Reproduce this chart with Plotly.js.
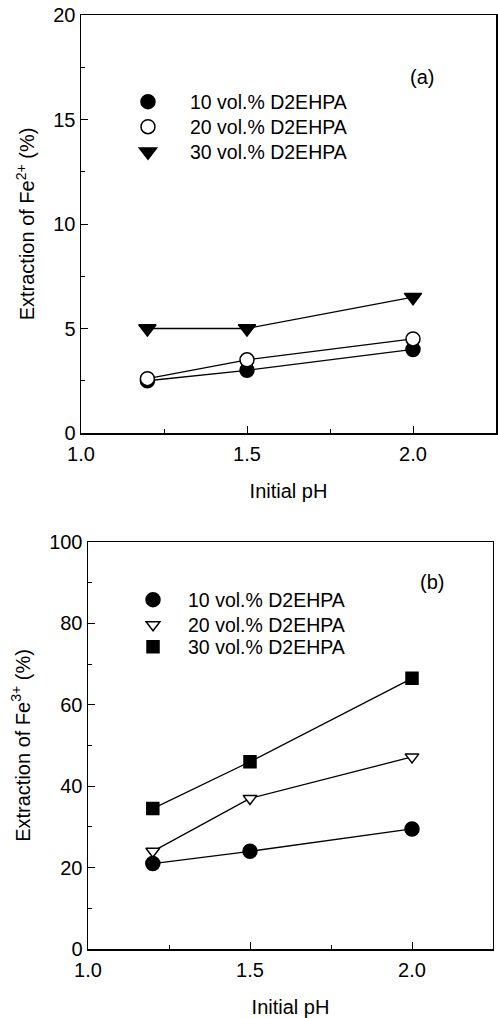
<!DOCTYPE html>
<html><head><meta charset="utf-8">
<script src="https://cdn.plot.ly/plotly-3.0.1.min.js"></script>
<style>html,body{margin:0;padding:0;background:#fff}#chart{width:498px;height:1018px}</style>
</head><body><div id="chart"></div>
<script>
const pH = [1.2, 1.5, 2.0];
const seriesNames = ['10 vol.% D2EHPA', '20 vol.% D2EHPA', '30 vol.% D2EHPA'];
const fe2_10 = [2.5, 3.0, 4.0];
const fe2_20 = [2.6, 3.5, 4.5];
const fe2_30 = [5.0, 5.0, 6.5];
const fe3_10 = [21, 24, 29.5];
const fe3_20 = [24, 37, 47.2];
const fe3_30 = [34.5, 46, 66.5];
const xTickVals = [1.0, 1.5, 2.0];
const xTickText = ['1.0', '1.5', '2.0'];
const yTopTicks = [0, 5, 10, 15, 20];
const yBotTicks = [0, 20, 40, 60, 80, 100];

const FONT = 'Liberation Sans, Arial, Helvetica, sans-serif';

function lineTr(y, xa, ya) {
  return {x: pH, y: y, type: 'scatter', mode: 'lines', xaxis: xa, yaxis: ya,
          showlegend: false, hoverinfo: 'skip', line: {color: '#000', width: 1.3}};
}
function markTr(y, name, sym, size, fill, xa, ya, leg) {
  return {x: pH, y: y, name: name, type: 'scatter', mode: 'markers',
          xaxis: xa, yaxis: ya, legend: leg,
          marker: {symbol: sym, size: size, color: fill, line: {color: '#000', width: 1.5}}};
}

const data = [
  lineTr(fe2_10, 'x', 'y'), lineTr(fe2_20, 'x', 'y'), lineTr(fe2_30, 'x', 'y'),
  lineTr(fe3_10, 'x2', 'y2'), lineTr(fe3_20, 'x2', 'y2'), lineTr(fe3_30, 'x2', 'y2'),
  markTr(fe2_10, seriesNames[0], 'circle', 14, '#000', 'x', 'y', 'legend'),
  markTr(fe2_20, seriesNames[1], 'circle', 14, '#fff', 'x', 'y', 'legend2'),
  markTr(fe2_30, seriesNames[2], 'triangle-down', 15, '#000', 'x', 'y', 'legend3'),
  markTr(fe3_10, seriesNames[0], 'circle', 14, '#000', 'x2', 'y2', 'legend4'),
  markTr(fe3_20, seriesNames[1], 'triangle-down', 12, '#fff', 'x2', 'y2', 'legend5'),
  markTr(fe3_30, seriesNames[2], 'square', 12, '#000', 'x2', 'y2', 'legend6')
];

function xax(domain, anchor) {
  return {
    domain: domain, anchor: anchor, range: [1, 2.25],
    tickmode: 'array', tickvals: xTickVals, ticktext: xTickText,
    ticks: 'inside', ticklen: 7, tickwidth: 1, tickcolor: '#000', ticklabelstandoff: 2,
    minor: {tick0: 1, dtick: 0.25, ticks: 'inside', ticklen: 4, tickwidth: 1, tickcolor: '#000'},
    showline: true, linecolor: '#000', linewidth: 1.5, mirror: true,
    showgrid: false, zeroline: false,
    tickfont: {family: FONT, size: 20, color: '#000'},
    title: {text: 'Initial pH', font: {family: FONT, size: 20, color: '#000'}, standoff: 20}
  };
}
function yax(domain, anchor, range, ticks, minorD, title) {
  return {
    domain: domain, anchor: anchor, range: range,
    tickmode: 'array', tickvals: ticks,
    ticks: 'inside', ticklen: 7, tickwidth: 1, tickcolor: '#000',
    minor: {tick0: 0, dtick: minorD, ticks: 'inside', ticklen: 4, tickwidth: 1, tickcolor: '#000'},
    showline: true, linecolor: '#000', linewidth: 1.5, mirror: true,
    showgrid: false, zeroline: false,
    tickfont: {family: FONT, size: 20, color: '#000'},
    title: {text: title, font: {family: FONT, size: 20, color: '#000'}, standoff: 13}
  };
}

function legendOpts(x, y, itemwidth) {
  return {
    x: x, y: y, xref: 'paper', yref: 'paper', xanchor: 'left', yanchor: 'middle',
    bgcolor: 'rgba(0,0,0,0)', borderwidth: 0, itemwidth: itemwidth,
    font: {family: FONT, size: 19.5, color: '#000'}
  };
}

const layout = {
  width: 498, height: 1018,
  margin: {l: 81, r: 2, t: 15, b: 69},
  paper_bgcolor: '#fff', plot_bgcolor: '#fff',
  showlegend: true,
  xaxis: xax([0, 1], 'y'),
  yaxis: yax([0.55246, 1], 'x', [0, 20], yTopTicks, 2.5, 'Extraction of Fe<sup>2+</sup> (%)'),
  xaxis2: xax([0.01687, 0.99277], 'y2'),
  yaxis2: yax([0, 0.43576], 'x2', [0, 100], yBotTicks, 10, 'Extraction of Fe<sup>3+</sup> (%)'),
  legend: legendOpts(0.0602, 0.9069, 74),
  legend2: legendOpts(0.0602, 0.8801, 74),
  legend3: legendOpts(0.0602, 0.8533, 74),
  legend4: legendOpts(0.0892, 0.3737, 60),
  legend5: legendOpts(0.0892, 0.3469, 60),
  legend6: legendOpts(0.0892, 0.3233, 60),
  annotations: [
    {text: '(a)', xref: 'paper', yref: 'paper', x: 0.8217, y: 0.9336, xanchor: 'center', yanchor: 'middle',
     showarrow: false, font: {family: FONT, size: 20, color: '#000'}},
    {text: '(b)', xref: 'paper', yref: 'paper', x: 0.8458, y: 0.3929, xanchor: 'center', yanchor: 'middle',
     showarrow: false, font: {family: FONT, size: 20, color: '#000'}}
  ]
};

Plotly.newPlot('chart', data, layout, {displayModeBar: false, staticPlot: true});
</script>
</body></html>
